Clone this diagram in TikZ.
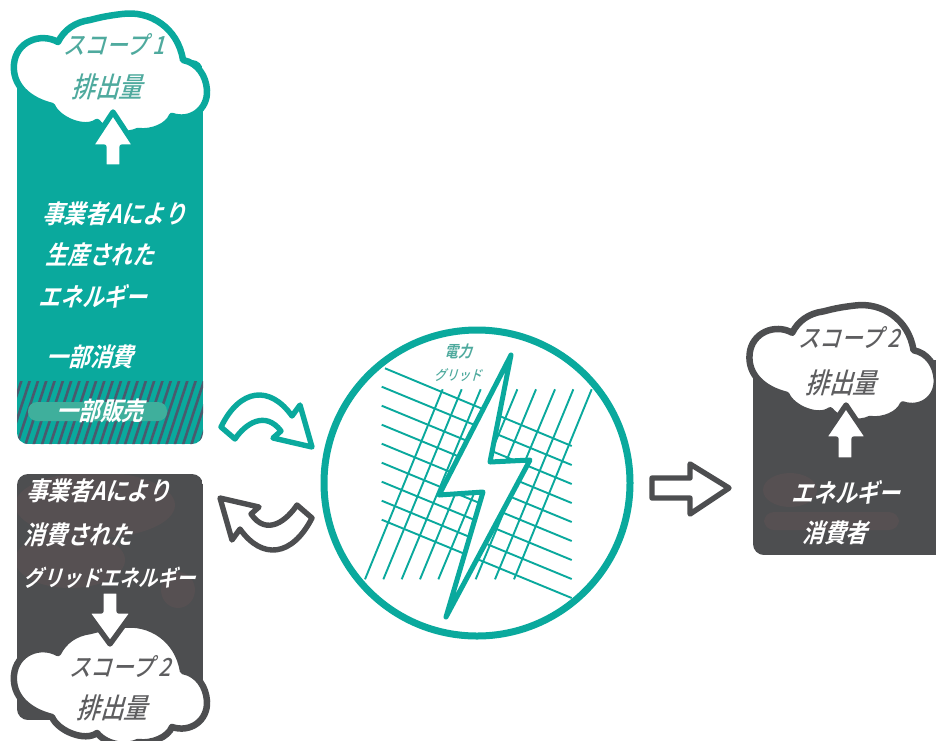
\documentclass[tikz,border=0pt]{standalone}
\usepackage{fontspec}
\newfontfamily\jp[FakeSlant=0.28,FakeStretch=0.85]{Noto Sans CJK JP Medium}
\newfontfamily\jpb[FakeSlant=0.28,FakeStretch=0.85]{Noto Sans CJK JP Bold}
\definecolor{teal1}{HTML}{0AA99D}
\definecolor{tealmid}{HTML}{3FAF9C}
\definecolor{tealtxt}{HTML}{4FAA9E}
\definecolor{grey1}{HTML}{4D4E50}
\definecolor{greytxt}{HTML}{5E5E60}
\definecolor{brown1}{HTML}{565052}
\definecolor{hatch1}{HTML}{4A5A6E}
\tikzset{
  cloudline/.style={line width=6.5pt,fill=white,line join=round},
  boltline/.style={draw=teal1,line width=5pt,line join=round,fill=white},
  gridline/.style={draw=teal1,line width=1.9pt},
  arrowline/.style={line width=5.4pt,line join=round,fill=white},
  whitetxt/.style={text=white,font=\jpb\fontsize{25.5}{25.5}\selectfont,inner sep=0pt},
  tealtext/.style={text=tealtxt,font=\jp\fontsize{25}{25}\selectfont,inner sep=0pt},
  greytext/.style={text=greytxt,font=\jp\fontsize{25}{25}\selectfont,inner sep=0pt},
  smalltxt/.style={text=tealtxt,inner sep=0pt}
}
\newcommand{\cloudshape}[4]{%
  \begin{scope}[shift={(#2,#3)},scale=#4]
  \path[cloudline,draw=#1] (58,42) .. controls (40,32) and (16,42) .. (14,64)
    .. controls (12,85) and (28,100) .. (52,106)
    .. controls (58,120) and (85,131) .. (97,122)
    .. controls (108,135) and (128,136) .. (138,131)
    .. controls (152,133) and (168,126) .. (172,116)
    .. controls (190,122) and (208,110) .. (207,90)
    .. controls (206,76) and (198,63) .. (183,60)
    .. controls (178,28) and (150,10) .. (122,14)
    .. controls (105,16) and (98,18) .. (90,20)
    .. controls (75,22) and (64,30) .. (58,42) -- cycle;
  \end{scope}}
\begin{document}
\begin{tikzpicture}[x=1pt,y=-1pt]
\useasboundingbox (0,0) rectangle (936,740);
% teal box
\begin{scope}
  \clip[rounded corners=11pt] (17,60) rectangle (203,444);
  \fill[teal1] (17,60) rectangle (203,444);
  \clip (17,381) rectangle (203,444);
  \foreach \k in {0,...,28}{
    \draw[hatch1,line width=2.6pt] ({0+8.3*\k},446) -- ({22+8.3*\k},379);
  }
\end{scope}
\fill[tealmid,rounded corners=9pt] (28,402) rectangle (167,421);
\cloudshape{teal1}{0}{0}{1}
\path[arrowline,draw=teal1] (113,112) -- (136,147) -- (122,147) -- (122,167) -- (104,167) -- (104,147) -- (90,147) -- cycle;
\node[tealtext] (s1a) at (114,45) {スコープ 1};
\node[tealtext,font=\jp\fontsize{28}{28}\selectfont] (s1b) at (107,87) {排出量};
\node[whitetxt] (t1) at (114,214) {事業者Aにより};
\node[whitetxt] (t2) at (100,255) {生産された};
\node[whitetxt] (t3) at (93,296) {エネルギー};
\node[whitetxt] (t4) at (90,357) {一部消費};
\node[whitetxt] (t5) at (100,411) {一部販売};
% grey box
\begin{scope}
  \clip[rounded corners=11pt] (17,474) rectangle (203,720);
  \fill[grey1] (17,474) rectangle (203,720);
  \fill[brown1] (95,505) ellipse (80 and 33);
  \fill[brown1] (70,560) ellipse (55 and 28);
  \fill[brown1] (178,590) ellipse (17 and 18);
\end{scope}
\cloudshape{grey1}{0}{611}{1}
\path[arrowline,draw=grey1] (110,644) -- (134,611) -- (119,611) -- (119,591) -- (101,591) -- (101,611) -- (86,611) -- cycle;
\node[whitetxt] (g1) at (98,491) {事業者Aにより};
\node[whitetxt] (g2) at (78,535) {消費された};
\node[whitetxt,font=\jpb\fontsize{22.5}{22.5}\selectfont] (g3) at (110,578) {グリッドエネルギー};
\node[greytext] (g4) at (120,667) {スコープ 2};
\node[greytext,font=\jp\fontsize{28}{28}\selectfont] (g5) at (112,708) {排出量};
% curved arrows
\path[arrowline,draw=teal1] (221,427) -- (235,439) .. controls (245,424) and (265,410) .. (281,431) -- (273,438) -- (312,447) -- (300,405) -- (292,416) .. controls (270,385) and (240,388) .. (221,427) -- cycle;
\path[arrowline,draw=grey1] (312,518) -- (297,505) .. controls (287,520) and (267,537) .. (251,514) -- (259,507) -- (220,498) -- (232,540) -- (240,529) .. controls (262,560) and (292,557) .. (312,518) -- cycle;
% circle and grid
\draw[teal1,line width=7pt,fill=white] (477,483) circle (153);
\foreach \k in {1,...,8}{
  \draw[gridline] (381.7,{386.7+19*\k-19}) -- (571.7,{446+19*\k});
}
\draw[gridline] (385,368.3) -- (571.7,446);
\foreach \a/\b in {398/165,455/220,512/275,565/330,622/385,678/442,735/497,790/555,845/612}{
  \draw[gridline] ({310+\a/3},389.3) -- ({310+\b/3},579.3);
}
% bolt
\path[boltline] (511,355) -- (490,462) -- (530,460) -- (446,617) -- (483,492) -- (439,495) -- cycle;
\node[smalltxt,font=\jpb\fontsize{16}{16}\selectfont] (e1) at (458,351) {電力};
\node[smalltxt,font=\jp\fontsize{14}{14}\selectfont] (e2) at (458,375) {グリッド};
% straight arrow
\path[arrowline,draw=grey1] (652,478) -- (690,478) -- (690,464) -- (729,488) -- (690,514) -- (690,498) -- (652,498) -- cycle;
% right box
\begin{scope}
  \clip[rounded corners=11pt] (753,360) rectangle (960,555);
  \fill[grey1] (753,360) rectangle (960,555);
  \fill[brown1] (790,490) ellipse (27 and 17);
  \fill[brown1,rounded corners=10pt] (764,512) rectangle (899,530);
\end{scope}
\cloudshape{grey1}{736}{292}{0.97}
\path[arrowline,draw=grey1] (846,405) -- (869,439) -- (854,439) -- (854,460) -- (836,460) -- (836,439) -- (823,439) -- cycle;
\node[greytext] (r1) at (849,338) {スコープ 2};
\node[greytext,font=\jp\fontsize{28}{28}\selectfont] (r2) at (841,383) {排出量};
\node[whitetxt] (r3) at (846,492) {エネルギー};
\node[whitetxt] (r4) at (835,533) {消費者};
\end{tikzpicture}
\end{document}
